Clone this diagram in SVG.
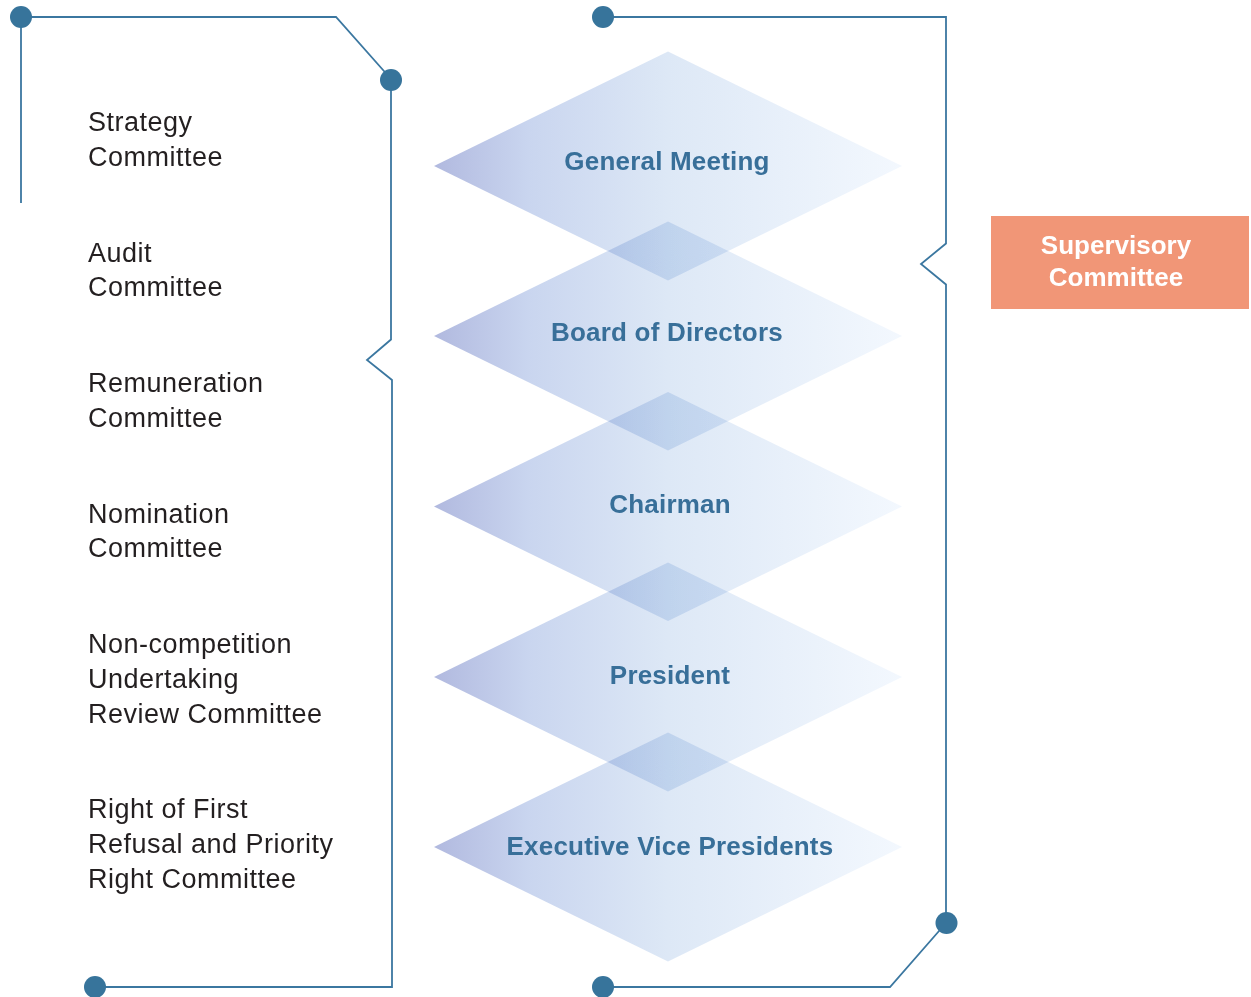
<svg xmlns="http://www.w3.org/2000/svg" width="1251" height="997" viewBox="0 0 1251 997">
<defs>
<linearGradient id="dg" x1="0" y1="0" x2="1" y2="0">
<stop offset="0" stop-color="#b1b9df"/>
<stop offset="0.2" stop-color="#c9d5ef"/>
<stop offset="0.5" stop-color="#dde8f6"/>
<stop offset="1" stop-color="#f3f8fe"/>
</linearGradient>
<style>
.lbl{font-family:"Liberation Sans",Arial,sans-serif;font-size:27px;fill:#231f20;letter-spacing:0.5px}
.dt{font-family:"Liberation Sans",Arial,sans-serif;font-size:26px;font-weight:bold;fill:#386f99;text-anchor:middle;letter-spacing:0.2px}
.dia{fill:url(#dg);mix-blend-mode:multiply}
.ln{fill:none;stroke:#3b77a0;stroke-width:1.8}
.dot{fill:#37749b}
.sv{font-family:"Liberation Sans",Arial,sans-serif;font-size:26px;font-weight:bold;fill:#ffffff;text-anchor:middle}
</style>
</defs>
<rect width="1251" height="997" fill="#ffffff"/>
<g id="connectors">
<path class="ln" d="M21,203 V17 H336 L391,79 V339.5 L367,360 L392,380 V987 H95"/>
<path class="ln" d="M603,17 H946 V243.5 L921,264 L946,284.5 V923 L890,987 H603"/>
<circle class="dot" cx="21" cy="17" r="11"/>
<circle class="dot" cx="391" cy="80" r="11"/>
<circle class="dot" cx="95" cy="987" r="11"/>
<circle class="dot" cx="603" cy="17" r="11"/>
<circle class="dot" cx="946.5" cy="923" r="11"/>
<circle class="dot" cx="603" cy="987" r="11"/>
</g>
<g id="strategy-committee"><text class="lbl" x="88" y="131">Strategy</text><text class="lbl" x="88" y="166">Committee</text></g>
<g id="audit-committee"><text class="lbl" x="88" y="262">Audit</text><text class="lbl" x="88" y="296">Committee</text></g>
<g id="remuneration-committee"><text class="lbl" x="88" y="392">Remuneration</text><text class="lbl" x="88" y="427">Committee</text></g>
<g id="nomination-committee"><text class="lbl" x="88" y="523">Nomination</text><text class="lbl" x="88" y="557">Committee</text></g>
<g id="non-competition-committee"><text class="lbl" x="88" y="653">Non-competition</text><text class="lbl" x="88" y="688">Undertaking</text><text class="lbl" x="88" y="723">Review Committee</text></g>
<g id="right-of-first-refusal-committee"><text class="lbl" x="88" y="818">Right of First</text><text class="lbl" x="88" y="853">Refusal and Priority</text><text class="lbl" x="88" y="888">Right Committee</text></g>
<g id="general-meeting"><polygon class="dia" points="668,51.5 902,166 668,280.5 434,166"/><text class="dt" x="667" y="170">General Meeting</text></g>
<g id="board-of-directors"><polygon class="dia" points="668,221.5 902,336 668,450.5 434,336"/><text class="dt" x="667" y="341">Board of Directors</text></g>
<g id="chairman"><polygon class="dia" points="668,392 902,506.5 668,621 434,506.5"/><text class="dt" x="670" y="513">Chairman</text></g>
<g id="president"><polygon class="dia" points="668,562.5 902,677 668,791.5 434,677"/><text class="dt" x="670" y="684">President</text></g>
<g id="executive-vice-presidents"><polygon class="dia" points="668,732.5 902,847 668,961.5 434,847"/><text class="dt" x="670" y="855">Executive Vice Presidents</text></g>
<g id="supervisory-committee"><rect x="991" y="216" width="258" height="93" fill="#f19677"/><text class="sv" x="1116" y="254">Supervisory</text><text class="sv" x="1116" y="286">Committee</text></g>
</svg>
